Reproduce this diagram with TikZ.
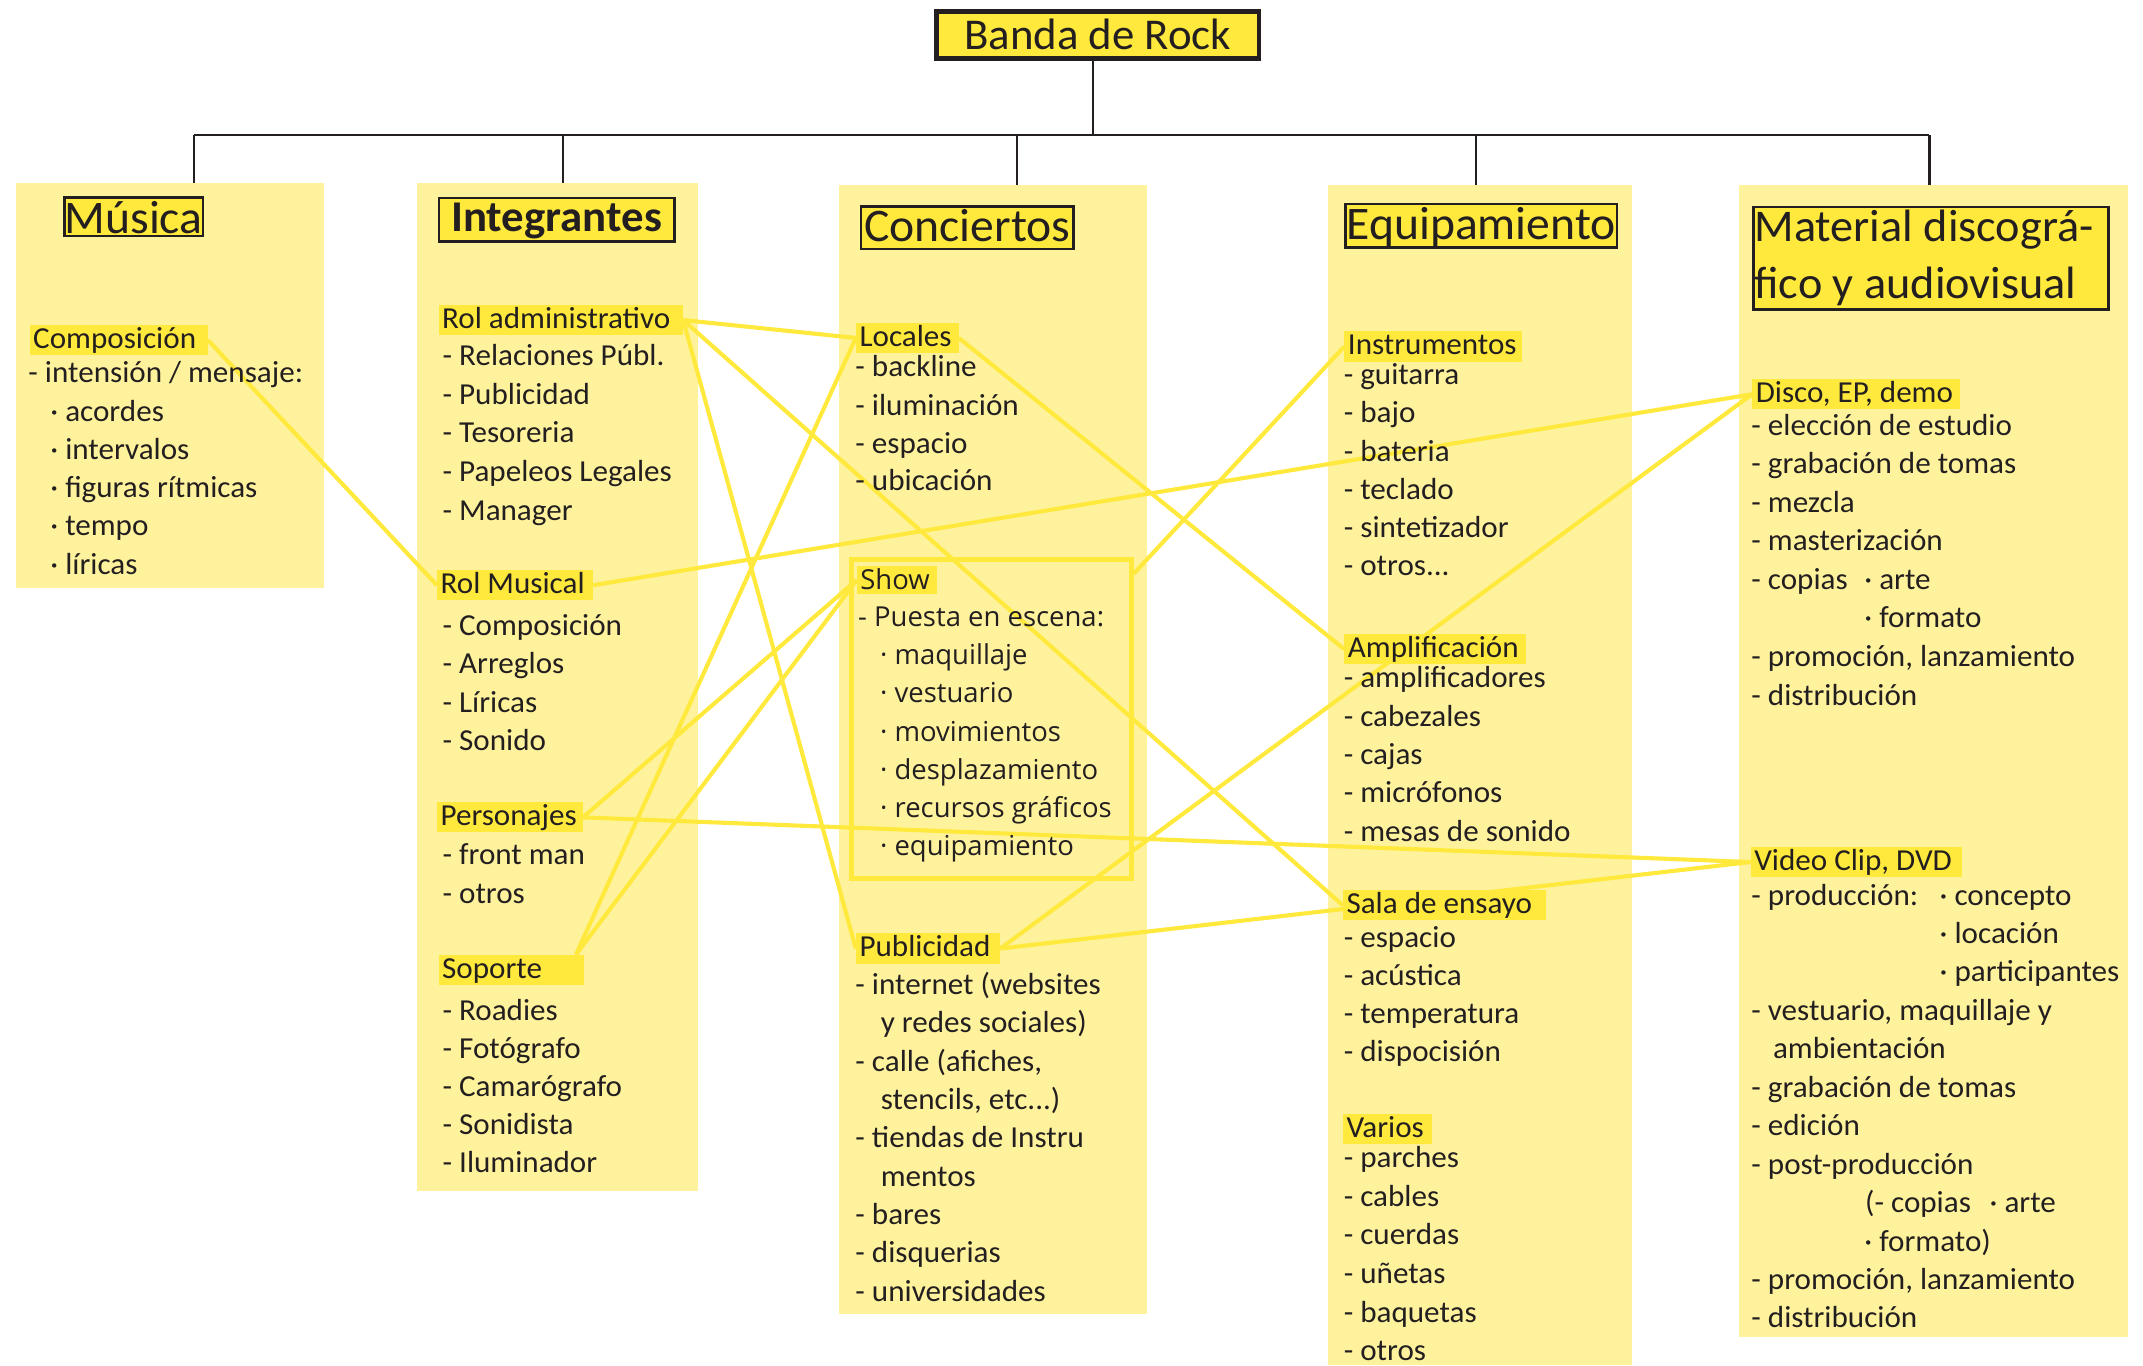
\documentclass[tikz,border=0pt]{standalone}
\usepackage{fontspec}
\setmainfont{Carlito}[FakeStretch=1.02]
\newfontfamily\showfont{Open Sans}
\usetikzlibrary{calc}
\pgfdeclarelayer{bg}
\pgfdeclarelayer{lines}
\pgfsetlayers{bg,lines,main}
\definecolor{colfill}{HTML}{FFF29C}
\definecolor{hl}{HTML}{FFE93C}
\definecolor{ink}{HTML}{231F20}
\begin{document}
\begin{tikzpicture}[x=1pt,y=-1pt,
  colbox/.style={fill=colfill, draw=none, inner sep=0pt, anchor=north west},
  hdr/.style={draw=ink, line width=1.8pt, fill=hl, inner sep=0pt, text depth=0pt, font=\fontsize{34}{40}\selectfont, text=ink},
  lab/.style={fill=hl, inner xsep=2.5pt, inner ysep=0pt, text height=17pt, text depth=5pt, anchor=base west, font=\fontsize{22.2}{26}\selectfont, text=ink},
  itm/.style={inner sep=0pt, anchor=base west, font=\fontsize{22.2}{26}\selectfont, text=ink},
  sitm/.style={inner sep=0pt, anchor=base west, font=\showfont\fontsize{20}{24}\selectfont, text=ink},
  conn/.style={draw=hl, line width=3pt},
  tree/.style={draw=ink, line width=1.6pt},
]
\useasboundingbox (0,0) rectangle (1560,993.7);

% ---------- columns ----------
\begin{pgfonlayer}{bg}
\node[colbox, minimum width=224.8pt, minimum height=294.4pt] (colM) at (11.2,133.2) {};
\node[colbox, minimum width=204.7pt, minimum height=733.3pt] (colI) at (303.3,133.2) {};
\node[colbox, minimum width=224.2pt, minimum height=821.7pt] (colC) at (610.8,134.8) {};
\node[colbox, minimum width=221.3pt, minimum height=858.9pt] (colE) at (966.5,134.8) {};
\node[colbox, minimum width=283pt, minimum height=838.2pt] (colMat) at (1265.9,134.8) {};
\end{pgfonlayer}

% ---------- title and tree ----------
\node[hdr, line width=3.3pt, minimum width=234.5pt, minimum height=34.5pt, text height=21.4pt, font=\fontsize{32}{38}\selectfont] (banda) at (799.1,25.5) {Banda de Rock};
\coordinate (busL) at (141,98);
\coordinate (busR) at (1404.5,98);
\coordinate (dI) at (410,98);
\coordinate (dC) at (740.5,98);
\coordinate (dE) at (1074.5,98);
\coordinate (bandafoot) at ($(banda.south)+(-3.2,0)$);
\draw[tree] (busL) -- (busR);
\draw[tree] (bandafoot) -- (bandafoot |- busL);
\draw[tree] (busL) -- (busL |- colM.north);
\draw[tree] (dI) -- (dI |- colI.north);
\draw[tree] (dC) -- (dC |- colC.north);
\draw[tree] (dE) -- (dE |- colE.north);
\draw[tree] (busR) -- (busR |- colMat.north);

% ---------- headers ----------
\node[hdr, minimum width=101pt, minimum height=27.9pt, text height=24.3pt] (hM) at (97.3,157.75) {Música};
\node[hdr, minimum width=171.6pt, minimum height=31.6pt, text height=17.4pt, font=\fontsize{32}{38}\selectfont\bfseries] (hI) at (405.2,159.9) {Integrantes};
\node[hdr, minimum width=154.7pt, minimum height=30.9pt, text height=20.8pt] (hC) at (704.15,165.75) {Conciertos};
\node[hdr, minimum width=197.6pt, minimum height=31.5pt, text height=19.6pt] (hE) at (1078.2,164.35) {Equipamiento};
\node[hdr, minimum width=258.4pt, minimum height=74.4pt] (hMat) at (1405.5,188) {};
\node[itm, font=\fontsize{33}{40}\selectfont] (hMat1) at (1277,176) {Material discográ-};
\node[itm, font=\fontsize{33}{40}\selectfont] (hMat2) at (1277,217.3) {fico y audiovisual};

% ---------- Show frame ----------
\node[draw=hl, line width=3.4pt, minimum width=204pt, minimum height=232.5pt, anchor=north west, inner sep=0pt] (showbox) at (618,405.5) {};

% ---------- labels ----------
\node[lab] (comp) at (21.5,253.6) {\makebox[124.5pt][l]{Composición}};
\node[lab] (radm) at (319.2,239) {\makebox[172.7pt][l]{Rol administrativo}};
\node[lab] (rmus) at (318.1,432) {\makebox[108.4pt][l]{Rol Musical}};
\node[lab] (pers) at (318,601) {\makebox[100.9pt][l]{Personajes}};
\node[lab] (sop) at (319.2,712) {\makebox[100.7pt][l]{Soporte}};
\node[lab] (loc) at (623,252) {\makebox[69.6pt][l]{Locales}};
\node[lab, font=\showfont\fontsize{20}{24}\selectfont, text depth=3.6pt] (show) at (623.6,429) {\makebox[53.4pt][l]{Show}};
\node[lab] (pub) at (623,696.5) {\makebox[99.7pt][l]{Publicidad}};
\node[lab] (inst) at (978.5,258.3) {\makebox[124.4pt][l]{Instrumentos}};
\node[lab] (ampl) at (978.5,478.5) {\makebox[127pt][l]{Amplificación}};
\node[lab] (sala) at (977.5,665) {\makebox[142.9pt][l]{Sala de ensayo}};
\node[lab] (var) at (977.5,828) {\makebox[60pt][l]{Varios}};
\node[lab] (disco) at (1275.4,293) {\makebox[146.2pt][l]{Disco, EP, demo}};
\node[lab] (video) at (1274.3,633.5) {\makebox[148.8pt][l]{Video Clip, DVD}};

% ---------- Música items ----------
\node[itm] (mu1) at (20.5,278.6) {- intensión / mensaje:};
\node[itm] (mu2) at (36.5,306.5) {· acordes};
\node[itm] (mu3) at (36.5,334.3) {· intervalos};
\node[itm] (mu4) at (36.5,362.2) {· figuras rítmicas};
\node[itm] (mu5) at (36.5,390.0) {· tempo};
\node[itm] (mu6) at (36.5,417.9) {· líricas};

% ---------- Integrantes items ----------
\node[itm] (in1) at (322,266) {- Relaciones Públ.};
\node[itm] (in2) at (322,294.2) {- Publicidad};
\node[itm] (in3) at (322,322.4) {- Tesoreria};
\node[itm] (in4) at (322,350.6) {- Papeleos Legales};
\node[itm] (in5) at (322,378.8) {- Manager};
\node[itm] (rm1) at (322,462.8) {- Composición};
\node[itm] (rm2) at (322,490.5) {- Arreglos};
\node[itm] (rm3) at (322,518.3) {- Líricas};
\node[itm] (rm4) at (322,546) {- Sonido};
\node[itm] (pe1) at (322,629.2) {- front man};
\node[itm] (pe2) at (322,657.6) {- otros};
\node[itm] (so1) at (322,742.8) {- Roadies};
\node[itm] (so2) at (322,770.5) {- Fotógrafo};
\node[itm] (so3) at (322,798.3) {- Camarógrafo};
\node[itm] (so4) at (322,826) {- Sonidista};
\node[itm] (so5) at (322,853.7) {- Iluminador};

% ---------- Conciertos items ----------
\node[itm] (lo1) at (622.5,274.4) {- backline};
\node[itm] (lo2) at (622.5,302.1) {- iluminación};
\node[itm] (lo3) at (622.5,329.8) {- espacio};
\node[itm] (lo4) at (622.5,357.4) {- ubicación};
\node[sitm] (sh1) at (624.5,455.7) {- Puesta en escena:};
\node[sitm] (sh2) at (640.5,483.4) {· maquillaje};
\node[sitm] (sh3) at (640.5,511.3) {· vestuario};
\node[sitm] (sh4) at (640.5,539.9) {· movimientos};
\node[sitm] (sh5) at (640.5,567.3) {· desplazamiento};
\node[sitm] (sh6) at (640.5,595) {· recursos gráficos};
\node[sitm] (sh7) at (640.5,622.4) {· equipamiento};
\node[itm] (pu1) at (622.5,723.9) {- internet (websites};
\node[itm] (pu2) at (641,751.8) {y redes sociales)};
\node[itm] (pu3) at (622.5,779.7) {- calle (afiches,};
\node[itm] (pu4) at (641,807.6) {stencils, etc...)};
\node[itm] (pu5) at (622.5,835.5) {- tiendas de Instru};
\node[itm] (pu6) at (641,863.4) {mentos};
\node[itm] (pu7) at (622.5,891.3) {- bares};
\node[itm] (pu8) at (622.5,919.2) {- disquerias};
\node[itm] (pu9) at (622.5,947.1) {- universidades};

% ---------- Equipamiento items ----------
\node[itm] (eq1) at (978,280) {- guitarra};
\node[itm] (eq2) at (978,307.85) {- bajo};
\node[itm] (eq3) at (978,335.7) {- bateria};
\node[itm] (eq4) at (978,363.55) {- teclado};
\node[itm] (eq5) at (978,391.4) {- sintetizador};
\node[itm] (eq6) at (978,419.2) {- otros...};
\node[itm] (am1) at (978,500.6) {- amplificadores};
\node[itm] (am2) at (978,528.5) {- cabezales};
\node[itm] (am3) at (978,556.4) {- cajas};
\node[itm] (am4) at (978,584.3) {- micrófonos};
\node[itm] (am5) at (978,612.2) {- mesas de sonido};
\node[itm] (sa1) at (978,689.8) {- espacio};
\node[itm] (sa2) at (978,717.5) {- acústica};
\node[itm] (sa3) at (978,745.3) {- temperatura};
\node[itm] (sa4) at (978,773) {- dispocisión};
\node[itm] (va1) at (978,850) {- parches};
\node[itm] (va2) at (978,878.1) {- cables};
\node[itm] (va3) at (978,906.2) {- cuerdas};
\node[itm] (va4) at (978,934.3) {- uñetas};
\node[itm] (va5) at (978,962.4) {- baquetas};
\node[itm] (va6) at (978,990.5) {- otros};

% ---------- Material items ----------
\node[itm] (di1) at (1274.7,317) {- elección de estudio};
\node[itm] (di2) at (1274.7,345) {- grabación de tomas};
\node[itm] (di3) at (1274.7,373) {- mezcla};
\node[itm] (di4) at (1274.7,401) {- masterización};
\node[itm] (di5) at (1274.7,429) {- copias};
\node[itm] (di6) at (1357,429) {· arte};
\node[itm] (di7) at (1357,457) {· formato};
\node[itm] (di8) at (1274.7,485.1) {- promoción, lanzamiento};
\node[itm] (di9) at (1274.7,513.2) {- distribución};
\node[itm] (vi1) at (1274.7,658.8) {- producción:};
\node[itm] (vi2) at (1411.8,658.8) {· concepto};
\node[itm] (vi3) at (1411.8,686.8) {· locación};
\node[itm] (vi4) at (1411.8,714.8) {· participantes};
\node[itm] (vi5) at (1274.7,742.8) {- vestuario, maquillaje y};
\node[itm] (vi6) at (1290.5,770.8) {ambientación};
\node[itm] (vi7) at (1274.7,798.8) {- grabación de tomas};
\node[itm] (vi8) at (1274.7,826.8) {- edición};
\node[itm] (vi9) at (1274.7,854.8) {- post-producción};
\node[itm] (vi10) at (1357.5,882.8) {(- copias};
\node[itm] (vi11) at (1448.2,882.8) {· arte};
\node[itm] (vi12) at (1357,910.8) {· formato)};
\node[itm] (vi13) at (1274.7,938.8) {- promoción, lanzamiento};
\node[itm] (vi14) at (1274.7,966.3) {- distribución};

% ---------- connectors ----------
\begin{pgfonlayer}{lines}
\coordinate (sopin) at ($(sop.north east)+(-6,0)$);
\coordinate (showne) at ($(showbox.north east)+(0,12)$);
\draw[conn] (comp.east) -- (rmus.west);
\draw[conn] (radm.east) -- (loc.west);
\draw[conn] (radm.east) -- (pub.west);
\draw[conn] (radm.east) -- (sala.west);
\draw[conn] (loc.east) -- (ampl.west);
\draw[conn] (loc.west) -- (sopin);
\draw[conn] (show.west) -- (pers.east);
\draw[conn] (show.west) -- (sopin);
\draw[conn] (showne) -- (inst.west);
\draw[conn] (rmus.east) -- (disco.west);
\draw[conn] (pers.east) -- (video.west);
\draw[conn] (pub.east) -- (disco.west);
\draw[conn] (pub.east) -- (video.west);
\end{pgfonlayer}
\end{tikzpicture}
\end{document}
